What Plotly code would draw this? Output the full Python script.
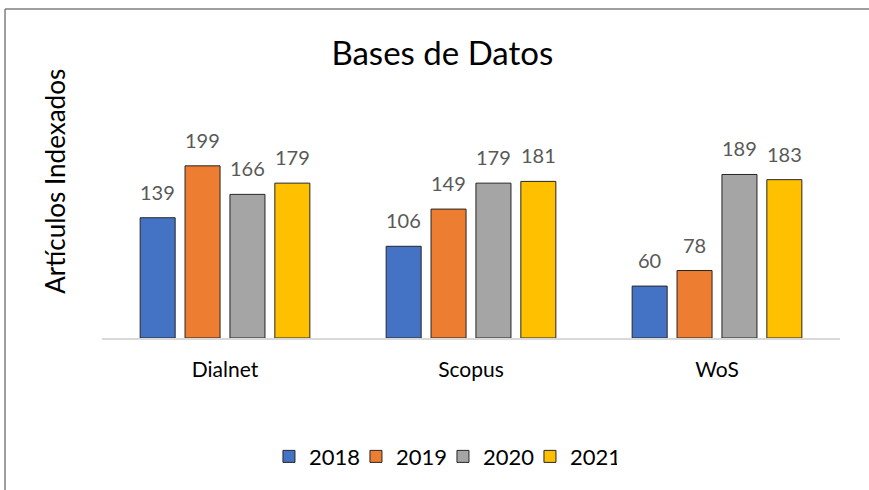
import plotly.graph_objects as go

bases = ["Dialnet", "Scopus", "WoS"]
anios = ["2018", "2019", "2020", "2021"]
v2018 = [139, 106, 60]
v2019 = [199, 149, 78]
v2020 = [166, 179, 189]
v2021 = [179, 181, 183]
colores = ["#4472C4", "#ED7D31", "#A5A5A5", "#FFC000"]

series = [v2018, v2019, v2020, v2021]

fig = go.Figure()
for anio, vals, col in zip(anios, series, colores):
    fig.add_trace(go.Bar(
        x=bases, y=vals, name=anio,
        marker=dict(color=col, line=dict(color="#262626", width=1)),
    ))

# etiquetas de valores encima de cada barra
slot = 45
for i, vals in enumerate(series):
    for b, v in zip(bases, vals):
        fig.add_annotation(
            x=b, y=v, text=str(v), showarrow=False,
            xshift=(i - 1.5) * slot, yshift=26,
            font=dict(size=20, color="#595959"),
        )

fig.add_annotation(
    x=-0.064, y=0.51, xref="paper", yref="paper",
    text="Artículos Indexados", textangle=-90, showarrow=False,
    xanchor="center", yanchor="middle",
    font=dict(size=26, color="#000000"),
)

# borde del área del gráfico (solo arriba e izquierda quedan visibles)
borde = dict(color="#7F7F7F", width=1.5)
fig.add_shape(type="line", xref="paper", yref="paper",
              x0=-0.1314, x1=1.3, y0=1.068, y1=1.068, line=borde)
fig.add_shape(type="line", xref="paper", yref="paper",
              x0=-0.1314, x1=-0.1314, y0=-0.7, y1=1.068, line=borde)

fig.update_layout(
    width=869, height=490,
    margin=dict(l=102, r=29, t=30, b=152),
    paper_bgcolor="white", plot_bgcolor="white",
    font=dict(family="Lato, Open Sans, sans-serif"),
    title=dict(text="Bases de Datos", x=0.509, xanchor="center",
               y=0.89, yanchor="middle",
               font=dict(size=33, color="#000000")),
    barmode="group", bargap=0.27, bargroupgap=0.22,
    showlegend=True,
    legend=dict(orientation="h", x=0.462, xanchor="center",
                y=-0.385, yanchor="middle",
                font=dict(size=22, color="#000000"),
                itemwidth=30, entrywidth=42, traceorder="normal"),
    xaxis=dict(showline=True, linecolor="#D9D9D9", linewidth=1.5,
               ticks="", ticklabelstandoff=12,
               tickfont=dict(size=21, color="#000000")),
    yaxis=dict(range=[0, 356], showgrid=False, showticklabels=False,
               zeroline=False, showline=False),
)

fig.write_html(
    "out.html",
    config={"displayModeBar": False},
    post_script="document.body.style.margin='0';document.body.style.overflow='hidden';",
)
